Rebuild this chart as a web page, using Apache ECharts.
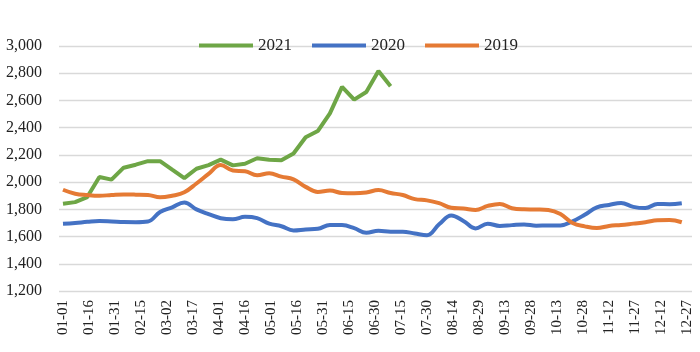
<!DOCTYPE html>
<html>
<head>
<meta charset="utf-8">
<script src="https://cdn.jsdelivr.net/npm/echarts@6/dist/echarts.min.js"></script>
<style>
  html, body { margin: 0; padding: 0; background: #fff; }
  #chart { width: 700px; height: 352px; }
</style>
</head>
<body>
<div id="chart"></div>
<script>
// x labels, one every 15 days
const dateLabels = ['01-01', '01-16', '01-31', '02-15', '03-02', '03-17', '04-01', '04-16', '05-01',
  '05-16', '05-31', '06-15', '06-30', '07-15', '07-30', '08-14', '08-29', '09-13', '09-28',
  '10-13', '10-28', '11-12', '11-27', '12-12', '12-27'];
const labelDays = dateLabels.map((d, i) => i * 15);

// weekly values
const y2021 = [1841, 1853, 1890, 2037, 2018, 2106, 2128, 2154, 2154, 2091, 2029, 2098, 2125, 2165,
  2123, 2135, 2175, 2165, 2160, 2210, 2330, 2375, 2505, 2700, 2606, 2662, 2816, 2704];
const y2020 = [1694, 1700, 1708, 1714, 1711, 1707, 1706, 1711, 1780, 1815, 1850, 1800, 1765, 1735,
  1727, 1745, 1735, 1695, 1676, 1645, 1652, 1657, 1685, 1684, 1662, 1628, 1643, 1636, 1636, 1622,
  1610, 1690, 1755, 1715, 1660, 1695, 1678, 1684, 1689, 1680, 1682, 1682, 1712, 1760, 1815, 1832,
  1847, 1818, 1809, 1840, 1838, 1845];
const y2019 = [1944, 1915, 1905, 1900, 1905, 1909, 1908, 1906, 1888, 1900, 1925, 1990, 2060, 2125,
  2085, 2080, 2050, 2065, 2040, 2020, 1965, 1928, 1938, 1920, 1918, 1924, 1942, 1920, 1905, 1875,
  1866, 1845, 1812, 1806, 1795, 1825, 1840, 1808, 1800, 1799, 1795, 1765, 1700, 1675, 1662, 1678,
  1685, 1695, 1705, 1720, 1722, 1705];

const yMin = 1200, yMax = 3000, yStep = 200;

function weekly(vals) {
  return vals.map((v, i) => [i * 7, v]);
}

var chartDom = document.getElementById('chart');
var myChart = echarts.init(chartDom, null, { renderer: 'canvas' });
var serif = 'Liberation Serif';

var option = {
  animation: false,
  backgroundColor: '#fff',
  textStyle: { fontFamily: serif },
  legend: {
    left: 194,
    top: 32,
    itemWidth: 54,
    itemHeight: 4,
    itemGap: 20,
    icon: 'rect',
    textStyle: { fontFamily: serif, fontSize: 17, color: '#222' },
    data: ['2021', '2020', '2019']
  },
  grid: { left: 59, right: 8, top: 46, bottom: 61, containLabel: false },
  xAxis: {
    type: 'value',
    min: -2.3,
    max: 362.9,
    axisLine: { show: false },
    axisTick: { show: false },
    splitLine: { show: false },
    axisLabel: {
      customValues: labelDays,
      rotate: 90,
      margin: 9,
      fontFamily: serif,
      fontSize: 15,
      color: '#222',
      formatter: function (v) {
        return dateLabels[Math.round(v / 15)];
      }
    }
  },
  yAxis: {
    type: 'value',
    min: yMin,
    max: yMax,
    interval: yStep,
    axisLine: { show: false },
    axisTick: { show: false },
    splitLine: { lineStyle: { color: '#d9d9d9', width: 1.3 } },
    axisLabel: {
      margin: 17,
      fontFamily: serif,
      fontSize: 16,
      color: '#222',
      formatter: function (v) {
        return v.toLocaleString('en-US');
      }
    }
  },
  series: [
    {
      name: '2021',
      type: 'line',
      data: weekly(y2021),
      symbol: 'none',
      lineStyle: { color: '#6ea646', width: 4 },
      itemStyle: { color: '#6ea646' }
    },
    {
      name: '2020',
      type: 'line',
      data: weekly(y2020),
      symbol: 'none',
      smooth: 0.4,
      lineStyle: { color: '#4472c4', width: 4 },
      itemStyle: { color: '#4472c4' }
    },
    {
      name: '2019',
      type: 'line',
      data: weekly(y2019),
      symbol: 'none',
      smooth: 0.4,
      lineStyle: { color: '#e57a34', width: 4 },
      itemStyle: { color: '#e57a34' }
    }
  ]
};

option && myChart.setOption(option);
</script>
</body>
</html>
